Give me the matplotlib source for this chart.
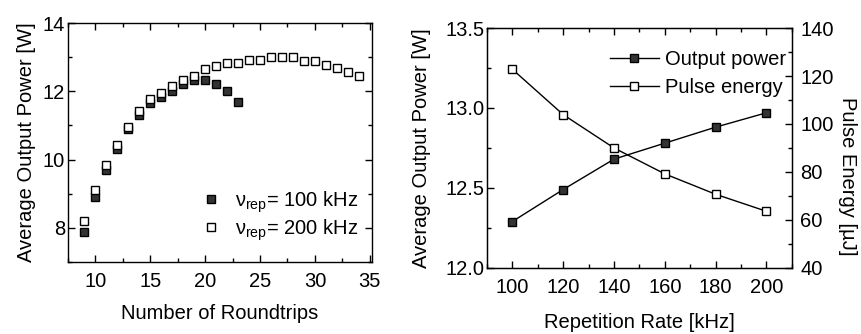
import matplotlib
matplotlib.use("Agg")
import matplotlib.pyplot as plt
from matplotlib.ticker import MultipleLocator

# ==========================================
# Data
# ==========================================

# left panel: output power vs. number of roundtrips
rt_200 = list(range(9, 35))
p_200 = [8.2, 9.1, 9.83, 10.43, 10.94, 11.43, 11.76, 11.95, 12.15, 12.34,
         12.45, 12.64, 12.74, 12.84, 12.82, 12.91, 12.91, 13.01, 13.01, 13.01,
         12.9, 12.88, 12.77, 12.67, 12.57, 12.45]

rt_100 = list(range(9, 24))
p_100 = [7.88, 8.89, 9.68, 10.3, 10.9, 11.3, 11.65, 11.83, 12.0, 12.22,
         12.32, 12.34, 12.22, 12.0, 11.68]

# right panel: output power and pulse energy vs. repetition rate
rep_rate = [100, 120, 140, 160, 180, 200]
out_power = [12.29, 12.49, 12.68, 12.78, 12.88, 12.97]
pulse_energy = [122.8, 103.9, 90.0, 79.2, 70.7, 63.6]

# ==========================================
# Style
# ==========================================

FS = 14.5

plt.rcParams["font.family"] = ["Liberation Sans", "DejaVu Sans"]
plt.rcParams["font.size"] = FS
plt.rcParams["mathtext.fontset"] = "custom"
plt.rcParams["mathtext.rm"] = "Liberation Sans"
plt.rcParams["mathtext.it"] = "Liberation Sans"

fig = plt.figure(figsize=(8.61, 3.34), dpi=100)

ax1 = fig.add_axes([0.079, 0.216, 0.353, 0.715])
ax2 = fig.add_axes([0.5656, 0.198, 0.354, 0.718])


def style_ticks(ax, right=True):
    ax.tick_params(which="both", direction="in", top=True, right=right,
                   labelsize=FS, width=1)
    ax.tick_params(which="major", length=5)
    ax.tick_params(which="minor", length=3)
    ax.tick_params(axis="x", pad=7)
    ax.tick_params(axis="y", pad=2)
    for s in ax.spines.values():
        s.set_linewidth(1)


# ==========================================
# Left panel
# ==========================================

ax1.plot(rt_100, p_100, "s", ms=6, mfc="#333333", mec="black", mew=1,
         label=r"$\nu_{rep}$= 100 kHz")
ax1.plot(rt_200, p_200, "s", ms=6, mfc="white", mec="black", mew=1,
         label=r"$\nu_{rep}$= 200 kHz")

ax1.set_xlim(7.5, 35.2)
ax1.set_ylim(7, 14)
ax1.xaxis.set_major_locator(MultipleLocator(5))
ax1.xaxis.set_minor_locator(MultipleLocator(2.5))
ax1.yaxis.set_major_locator(MultipleLocator(2))
ax1.yaxis.set_minor_locator(MultipleLocator(1))
style_ticks(ax1)

ax1.set_xlabel("Number of Roundtrips", labelpad=10)
ax1.set_ylabel("Average Output Power [W]", labelpad=5)
ax1.legend(loc="lower right", bbox_to_anchor=(0.995, 0.03), frameon=False,
           handletextpad=0.6, borderaxespad=0.2, labelspacing=0.12,
           handlelength=1.2)

# ==========================================
# Right panel
# ==========================================

l1, = ax2.plot(rep_rate, out_power, "-s", color="black", lw=1, ms=6,
               mfc="#333333", mec="black", mew=1, label="Output power")
ax2.set_xlim(90, 210)
ax2.set_ylim(12.0, 13.5)
ax2.xaxis.set_major_locator(MultipleLocator(20))
ax2.xaxis.set_minor_locator(MultipleLocator(10))
ax2.yaxis.set_major_locator(MultipleLocator(0.5))
ax2.yaxis.set_minor_locator(MultipleLocator(0.25))
ax2.yaxis.set_major_formatter(plt.FormatStrFormatter("%.1f"))
style_ticks(ax2, right=False)
ax2.set_xlabel("Repetition Rate [kHz]", labelpad=12)
ax2.set_ylabel("Average Output Power [W]", labelpad=10)

ax3 = ax2.twinx()
l2, = ax3.plot(rep_rate, pulse_energy, "-s", color="black", lw=1, ms=6,
               mfc="white", mec="black", mew=1, label="Pulse energy")
ax3.set_ylim(40, 140)
ax3.yaxis.set_major_locator(MultipleLocator(20))
ax3.yaxis.set_minor_locator(MultipleLocator(10))
ax3.tick_params(which="both", direction="in", labelsize=FS, width=1, pad=6)
ax3.tick_params(which="major", length=5)
ax3.tick_params(which="minor", length=3)
ax3.set_ylabel("Pulse Energy [\u00b5J]", rotation=270, labelpad=18)
ax3.yaxis.set_label_coords(1.215, 0.38)

ax3.legend(handles=[l1, l2], loc="upper right", bbox_to_anchor=(1.02, 0.96),
           frameon=False, handlelength=2.4, handletextpad=0.3,
           borderaxespad=0.2, labelspacing=0.45)

fig.savefig("out.png", dpi=100)
